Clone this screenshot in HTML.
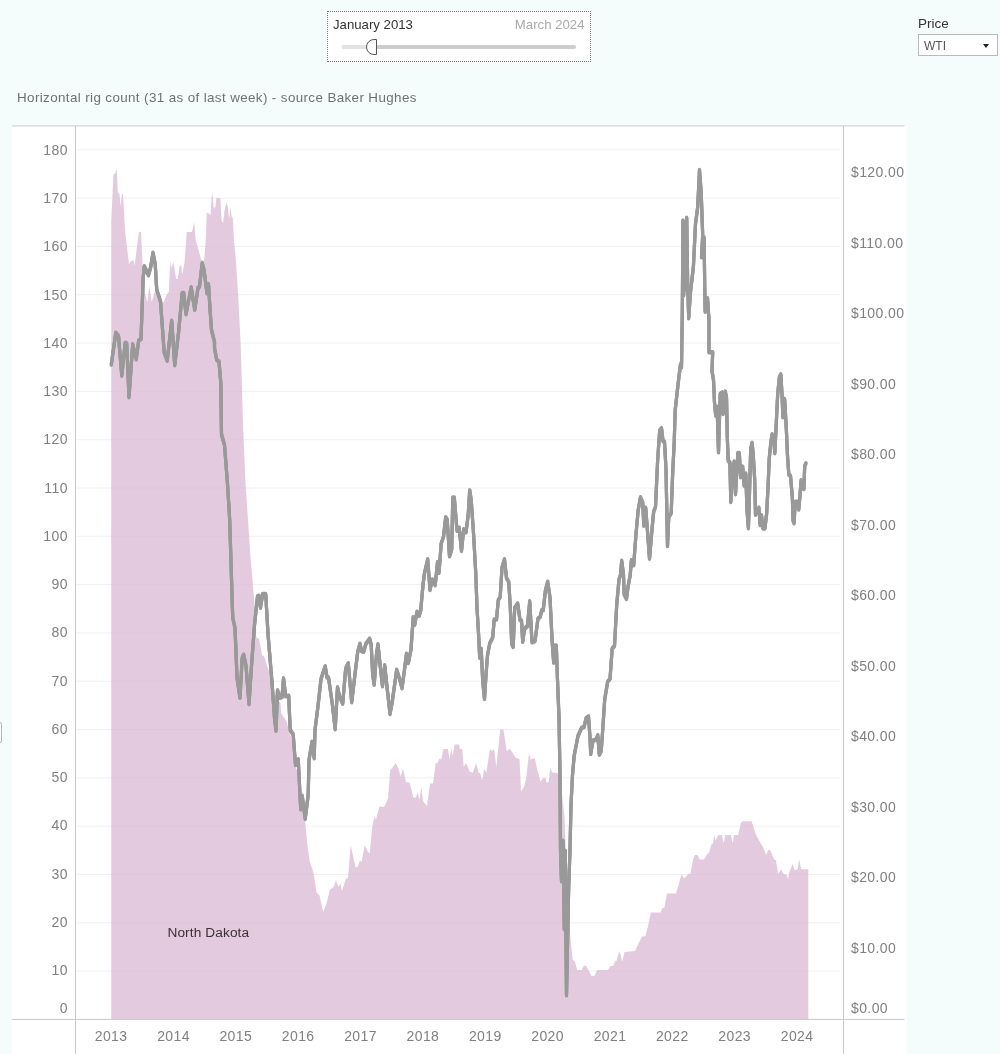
<!DOCTYPE html>
<html><head><meta charset="utf-8"><title>Horizontal rig count</title>
<style>
html,body{margin:0;padding:0;}
body{width:1000px;height:1054px;background:#f5fcfc;overflow:hidden;position:relative;font-family:"Liberation Sans",sans-serif;}
#chart{position:absolute;left:0;top:0;}
#chart text{font-family:"Liberation Sans",sans-serif;font-size:14px;fill:#808080;letter-spacing:0.4px;}
.title{position:absolute;left:17px;top:89.5px;font-size:13.4px;letter-spacing:0.38px;color:#707070;white-space:nowrap;line-height:16px;}
.slider{position:absolute;left:327px;top:11px;width:262px;height:49px;background:#fff;border:1px dotted #777;}
.slider .l{position:absolute;left:5px;top:6px;font-size:13.2px;color:#333;line-height:14px;}
.slider .r{position:absolute;right:5.5px;top:6px;font-size:13.2px;color:#aaa;line-height:14px;}
.track{position:absolute;left:14px;top:33px;width:234px;height:4px;background:#cdcdcd;border-radius:2px;}
.track .done{position:absolute;left:0;top:0;width:28px;height:4px;background:#e3e3e3;border-radius:2px;}
.handle{position:absolute;left:38px;top:27px;width:9.3px;height:14px;background:#fff;border:1.3px solid #555;border-radius:8px 0 0 8px;box-sizing:content-box;}
.price{position:absolute;left:918px;top:15.7px;font-size:13.5px;color:#333;line-height:16px;}
.dd{position:absolute;left:918px;top:34px;width:78px;height:20px;background:#fff;border:1px solid #b9b9b9;}
.dd span{position:absolute;left:5px;top:4px;font-size:12px;color:#555;line-height:14px;}
.dd i{position:absolute;right:8px;top:9px;width:0;height:0;border-left:3px solid transparent;border-right:3px solid transparent;border-top:4.3px solid #222;}
.tab{position:absolute;left:-3px;top:722px;width:5px;height:21px;border:1px solid #b5b5b5;border-radius:0 2px 2px 0;box-sizing:border-box;background:#fff;}
</style></head><body>
<svg id="chart" width="1000" height="1054" viewBox="0 0 1000 1054">
<rect x="12" y="126" width="894.5" height="928" fill="#fff"/>
<line x1="12" x2="904.5" y1="125.8" y2="125.8" stroke="#cfd4d4" stroke-width="1.3"/>
<line x1="76.5" x2="840.5" y1="971.1" y2="971.1" stroke="#f0f0f0" stroke-width="1"/>
<line x1="76.5" x2="840.5" y1="922.8" y2="922.8" stroke="#f0f0f0" stroke-width="1"/>
<line x1="76.5" x2="840.5" y1="874.5" y2="874.5" stroke="#f0f0f0" stroke-width="1"/>
<line x1="76.5" x2="840.5" y1="826.2" y2="826.2" stroke="#f0f0f0" stroke-width="1"/>
<line x1="76.5" x2="840.5" y1="777.8" y2="777.8" stroke="#f0f0f0" stroke-width="1"/>
<line x1="76.5" x2="840.5" y1="729.5" y2="729.5" stroke="#f0f0f0" stroke-width="1"/>
<line x1="76.5" x2="840.5" y1="681.2" y2="681.2" stroke="#f0f0f0" stroke-width="1"/>
<line x1="76.5" x2="840.5" y1="632.9" y2="632.9" stroke="#f0f0f0" stroke-width="1"/>
<line x1="76.5" x2="840.5" y1="584.6" y2="584.6" stroke="#f0f0f0" stroke-width="1"/>
<line x1="76.5" x2="840.5" y1="536.3" y2="536.3" stroke="#f0f0f0" stroke-width="1"/>
<line x1="76.5" x2="840.5" y1="488.0" y2="488.0" stroke="#f0f0f0" stroke-width="1"/>
<line x1="76.5" x2="840.5" y1="439.7" y2="439.7" stroke="#f0f0f0" stroke-width="1"/>
<line x1="76.5" x2="840.5" y1="391.4" y2="391.4" stroke="#f0f0f0" stroke-width="1"/>
<line x1="76.5" x2="840.5" y1="343.1" y2="343.1" stroke="#f0f0f0" stroke-width="1"/>
<line x1="76.5" x2="840.5" y1="294.7" y2="294.7" stroke="#f0f0f0" stroke-width="1"/>
<line x1="76.5" x2="840.5" y1="246.4" y2="246.4" stroke="#f0f0f0" stroke-width="1"/>
<line x1="76.5" x2="840.5" y1="198.1" y2="198.1" stroke="#f0f0f0" stroke-width="1"/>
<line x1="76.5" x2="840.5" y1="149.8" y2="149.8" stroke="#f0f0f0" stroke-width="1"/>

<polygon points="111.2,1019.4 111.2,222.0 113.5,174.0 115.0,174.0 116.8,168.5 117.8,193.0 119.5,194.0 120.5,207.0 122.0,194.0 123.0,194.0 125.0,230.0 129.0,264.0 131.5,260.5 133.5,260.5 134.5,266.0 139.0,232.0 141.0,232.0 142.5,264.0 144.0,290.0 147.4,302.0 149.3,286.0 151.7,302.0 154.6,292.0 157.0,292.0 160.0,302.0 164.0,302.0 166.4,295.0 168.8,292.0 170.2,261.0 171.7,268.5 173.2,261.0 176.2,279.0 177.7,279.0 179.7,265.5 181.2,265.5 182.2,274.5 184.5,262.5 186.8,232.0 192.0,232.0 194.2,222.0 195.7,240.0 198.7,250.5 201.0,259.5 204.0,261.0 205.8,240.0 206.8,212.4 208.8,213.6 210.5,215.0 211.6,197.2 212.4,192.4 213.6,207.6 215.2,207.6 216.4,198.0 220.4,198.0 221.6,221.2 223.2,222.8 224.4,211.6 226.4,202.8 228.0,207.6 229.2,219.6 230.4,207.6 231.6,216.4 232.8,218.0 234.0,242.0 235.5,255.0 237.7,288.0 239.2,315.0 240.7,345.0 241.8,382.5 243.2,430.0 245.5,482.5 248.5,527.5 250.0,550.0 253.0,586.0 254.5,604.0 256.0,636.0 256.7,637.7 259.0,638.5 262.0,655.0 264.2,656.5 266.5,664.0 268.5,670.0 272.0,690.0 280.5,703.0 281.2,713.5 286.5,721.0 289.5,733.0 292.0,740.0 294.0,766.0 297.0,770.0 299.2,797.5 303.0,812.0 305.2,822.0 307.5,846.0 309.7,861.0 313.5,873.0 316.5,892.5 319.5,895.5 323.2,912.0 326.2,904.5 330.0,889.5 333.7,887.0 336.0,879.7 338.2,887.0 340.5,883.5 342.0,891.0 345.7,879.0 348.0,878.0 350.7,845.0 355.5,867.0 357.7,867.0 360.0,860.0 361.5,862.5 364.8,845.0 367.5,851.0 369.7,853.5 372.2,827.0 374.5,816.5 376.0,819.5 379.3,806.7 384.2,806.7 388.0,798.5 390.2,770.0 392.5,767.7 395.5,763.0 398.5,768.5 400.7,776.7 403.0,768.5 406.0,782.0 409.7,782.7 413.5,797.7 415.7,797.7 417.7,792.5 419.5,800.0 421.3,787.0 423.2,801.5 427.0,806.0 430.0,783.5 433.0,783.5 435.7,763.0 437.5,763.0 439.3,758.7 441.2,759.5 443.5,749.0 448.0,749.0 449.5,759.5 451.3,748.0 452.5,756.5 454.7,744.5 459.2,744.5 460.0,749.0 462.2,749.0 463.7,767.0 466.0,763.0 469.7,771.5 472.7,773.0 476.2,763.0 478.7,773.0 480.2,773.0 482.2,780.5 484.3,768.5 486.2,773.0 490.0,749.0 492.2,751.0 494.2,749.0 496.3,767.0 500.2,729.5 503.5,729.5 506.7,751.0 509.7,748.7 512.7,753.0 515.7,757.7 519.5,759.0 521.0,791.5 524.0,787.0 526.2,778.0 529.0,753.0 530.7,760.0 532.2,758.5 534.8,758.5 537.5,770.5 540.5,781.7 543.2,778.0 545.7,778.0 546.5,783.0 548.7,781.7 550.2,768.0 552.5,772.7 557.0,772.7 559.0,775.0 561.5,790.0 564.5,817.0 566.0,857.5 568.0,900.0 570.5,940.0 572.7,959.5 575.0,961.7 577.2,970.0 581.7,970.0 584.0,965.5 586.2,966.0 588.5,970.0 591.5,976.0 594.5,976.0 597.2,970.0 608.0,970.0 610.2,966.0 613.2,966.0 615.2,961.0 616.5,961.0 619.2,951.0 620.5,955.0 622.2,961.7 624.5,952.0 635.0,951.0 638.0,944.5 640.0,940.4 641.8,936.8 645.4,936.0 648.1,926.0 650.8,912.5 660.7,912.5 662.5,908.0 664.3,908.0 667.0,893.6 676.0,893.6 678.7,884.6 681.4,874.2 684.1,878.3 688.6,873.8 690.4,873.8 693.1,859.4 694.9,854.9 697.6,854.9 699.4,859.4 703.9,859.4 706.6,854.9 709.3,852.2 711.1,845.0 712.9,843.2 714.2,835.1 715.6,840.5 718.3,835.1 721.9,835.1 723.7,843.0 725.5,835.1 730.9,835.1 732.7,843.2 734.0,835.1 738.1,835.1 740.8,823.4 742.6,821.2 751.6,821.2 753.4,827.0 756.1,835.1 759.7,841.4 763.3,847.7 766.0,854.9 768.7,849.5 770.5,850.4 774.1,859.4 775.9,860.3 778.2,873.8 781.3,869.3 783.1,873.8 786.7,874.7 788.0,879.2 789.4,872.0 792.6,863.9 794.8,870.2 797.5,869.3 799.3,859.4 801.1,869.3 808.3,869.3 808.3,1019.4" fill="#dbb8d3" fill-opacity="0.75"/>
<g fill="none" stroke="#999999" stroke-width="3.2" stroke-linejoin="round" stroke-linecap="round">
<polyline points="111.3,364.5 115.8,332.8 118.5,336.0 121.8,375.7 125.2,342.8 126.7,343.5 129.0,397.2 132.7,344.3 136.2,359.2 138.7,340.5 141.0,339.0 143.2,277.5 144.3,266.3 148.5,275.2 150.7,267.0 153.0,252.8 155.2,264.0 156.7,289.5 160.5,301.5 164.2,352.5 167.2,360.7 171.7,320.8 174.7,365.2 178.5,333.0 182.2,293.0 183.7,293.0 186.0,314.2 191.2,287.3 194.7,309.7 198.0,288.0 199.5,286.5 202.2,263.3 204.0,270.0 207.0,293.2 208.5,284.3 210.0,309.0 211.5,330.0 214.5,342.0 214.5,348.0 216.7,360.0 219.0,361.5 220.8,383.0 221.5,434.5 224.5,445.0 227.5,484.0 229.7,520.0 232.7,617.5 235.0,628.0 237.0,677.5 240.0,697.7 242.2,658.0 243.7,654.8 246.0,665.5 249.0,704.2 251.2,670.0 254.5,625.0 257.5,596.5 259.0,595.8 260.5,607.7 262.7,594.0 265.7,594.0 268.0,634.0 269.5,652.0 272.2,685.0 274.5,718.0 276.0,730.7 277.5,690.3 279.7,697.7 282.0,697.0 283.5,678.3 285.7,696.2 288.7,695.8 290.2,730.0 293.2,734.5 295.5,765.2 298.2,759.3 300.0,794.5 300.7,809.2 302.2,795.8 305.2,818.9 308.2,795.0 309.0,760.0 312.0,741.8 314.2,758.2 315.0,730.0 318.0,706.0 321.0,679.0 325.2,666.3 327.0,677.5 328.5,677.5 332.2,703.0 335.2,729.2 337.5,687.3 339.7,697.0 342.7,703.7 345.7,668.5 348.3,663.3 351.7,702.2 355.5,670.0 357.7,652.0 360.0,643.8 361.5,651.0 363.7,651.7 366.0,643.5 369.7,638.8 371.2,645.0 372.7,675.0 374.2,684.7 376.5,654.0 378.0,644.3 380.2,666.0 382.5,686.2 384.7,665.3 387.0,687.0 390.0,713.9 392.2,702.0 396.7,669.8 399.3,678.0 402.0,688.2 404.2,672.0 406.5,653.8 408.3,662.9 411.0,649.5 413.2,617.3 414.7,624.7 417.0,611.8 419.2,615.7 420.7,610.5 423.0,585.0 424.5,573.0 426.2,566.0 427.7,559.3 430.0,589.9 432.2,579.5 435.2,585.2 437.5,562.3 439.0,572.7 441.2,543.5 443.5,536.7 445.7,517.3 447.2,519.5 449.5,556.2 451.7,549.5 452.8,497.7 454.3,497.7 457.0,530.7 459.2,527.8 461.5,550.9 463.7,529.3 466.0,532.2 468.2,515.0 469.7,490.3 471.2,500.0 473.5,533.0 475.7,572.0 477.0,607.5 478.5,633.0 479.7,657.7 481.2,648.8 482.7,681.0 484.5,698.9 486.0,675.0 487.5,655.5 489.7,643.5 492.7,637.5 494.2,619.5 496.5,619.5 498.3,600.0 500.2,597.0 502.0,567.5 504.5,559.3 506.5,578.0 508.7,581.7 510.2,605.0 511.7,644.0 513.2,646.9 514.7,608.0 517.7,603.5 520.0,620.0 521.5,620.7 522.7,641.7 524.5,629.0 527.5,626.0 529.7,601.3 532.0,642.2 535.0,641.0 538.0,618.5 540.2,617.0 541.7,610.3 543.2,610.2 545.5,590.0 547.7,581.8 550.0,597.5 552.2,642.5 553.7,662.7 554.5,645.5 556.3,645.5 557.5,680.0 559.0,717.5 560.0,775.0 560.5,850.0 561.5,881.2 563.0,840.8 564.3,929.2 565.3,850.8 566.5,995.2 568.6,890.0 570.0,850.0 571.0,805.0 572.5,775.0 574.2,755.5 578.0,736.0 581.7,727.7 584.0,727.0 586.2,718.0 588.5,716.5 590.0,737.5 590.7,753.9 593.0,740.5 596.0,739.7 597.8,735.3 599.3,754.7 601.2,751.0 602.7,730.0 604.7,699.5 607.7,681.5 610.0,679.0 612.2,648.5 614.5,646.0 616.7,605.0 619.0,579.5 620.5,575.0 621.7,560.8 623.5,575.0 624.2,594.5 626.5,598.9 628.0,587.0 630.2,575.0 631.4,560.3 633.7,565.2 636.0,534.0 638.2,510.0 640.5,497.3 642.7,502.5 643.8,525.7 645.7,507.8 647.7,534.0 649.5,558.7 651.7,532.5 653.7,511.5 655.5,507.0 657.7,459.0 659.7,430.5 661.5,428.3 663.0,441.0 664.5,441.7 666.0,469.5 667.5,545.9 668.7,517.5 671.2,513.0 672.7,472.5 674.2,442.5 675.2,410.0 678.2,383.0 680.5,364.3 681.5,367.2 682.3,312.5 683.0,220.5 683.7,295.2 684.6,222.8 685.3,289.2 686.7,217.8 687.7,285.0 688.7,318.2 690.5,292.0 693.4,266.7 695.5,224.0 697.7,207.0 699.5,170.0 701.2,192.7 702.7,235.4 701.5,257.2 704.1,237.6 704.8,292.3 705.2,311.7 707.5,298.3 709.0,320.0 709.0,352.2 712.7,352.3 712.0,371.0 713.5,380.0 714.5,402.7 715.7,415.6 717.1,406.8 718.5,452.2 720.2,394.0 722.2,392.4 723.1,413.9 725.3,391.5 726.5,397.6 727.3,436.9 728.2,460.8 729.9,462.5 730.8,501.9 732.5,471.0 734.2,461.6 735.5,494.2 737.9,453.0 739.3,453.0 740.7,477.1 742.7,466.7 744.1,485.6 745.8,473.6 747.0,510.3 748.4,528.2 749.5,493.3 750.7,448.8 752.1,442.8 753.3,455.7 754.7,479.6 755.5,514.7 757.2,510.3 758.9,507.8 760.1,524.9 761.5,515.4 762.9,528.3 764.9,528.3 766.6,513.8 768.0,488.1 769.2,459.0 770.9,442.0 772.1,434.3 773.8,438.6 774.8,453.2 776.0,428.3 777.7,394.2 779.4,377.0 780.8,374.5 782.0,394.2 782.9,417.2 784.6,399.2 786.3,428.3 787.5,455.7 788.8,474.5 790.5,476.2 792.3,496.7 793.1,520.6 794.0,523.2 795.3,501.8 797.4,501.8 798.7,509.5 799.9,496.7 801.1,480.4 802.5,488.1 803.9,489.0 804.7,465.9 805.9,463.4" transform="translate(0,-0.75)"/>
<polyline points="111.3,364.5 115.8,332.8 118.5,336.0 121.8,375.7 125.2,342.8 126.7,343.5 129.0,397.2 132.7,344.3 136.2,359.2 138.7,340.5 141.0,339.0 143.2,277.5 144.3,266.3 148.5,275.2 150.7,267.0 153.0,252.8 155.2,264.0 156.7,289.5 160.5,301.5 164.2,352.5 167.2,360.7 171.7,320.8 174.7,365.2 178.5,333.0 182.2,293.0 183.7,293.0 186.0,314.2 191.2,287.3 194.7,309.7 198.0,288.0 199.5,286.5 202.2,263.3 204.0,270.0 207.0,293.2 208.5,284.3 210.0,309.0 211.5,330.0 214.5,342.0 214.5,348.0 216.7,360.0 219.0,361.5 220.8,383.0 221.5,434.5 224.5,445.0 227.5,484.0 229.7,520.0 232.7,617.5 235.0,628.0 237.0,677.5 240.0,697.7 242.2,658.0 243.7,654.8 246.0,665.5 249.0,704.2 251.2,670.0 254.5,625.0 257.5,596.5 259.0,595.8 260.5,607.7 262.7,594.0 265.7,594.0 268.0,634.0 269.5,652.0 272.2,685.0 274.5,718.0 276.0,730.7 277.5,690.3 279.7,697.7 282.0,697.0 283.5,678.3 285.7,696.2 288.7,695.8 290.2,730.0 293.2,734.5 295.5,765.2 298.2,759.3 300.0,794.5 300.7,809.2 302.2,795.8 305.2,818.9 308.2,795.0 309.0,760.0 312.0,741.8 314.2,758.2 315.0,730.0 318.0,706.0 321.0,679.0 325.2,666.3 327.0,677.5 328.5,677.5 332.2,703.0 335.2,729.2 337.5,687.3 339.7,697.0 342.7,703.7 345.7,668.5 348.3,663.3 351.7,702.2 355.5,670.0 357.7,652.0 360.0,643.8 361.5,651.0 363.7,651.7 366.0,643.5 369.7,638.8 371.2,645.0 372.7,675.0 374.2,684.7 376.5,654.0 378.0,644.3 380.2,666.0 382.5,686.2 384.7,665.3 387.0,687.0 390.0,713.9 392.2,702.0 396.7,669.8 399.3,678.0 402.0,688.2 404.2,672.0 406.5,653.8 408.3,662.9 411.0,649.5 413.2,617.3 414.7,624.7 417.0,611.8 419.2,615.7 420.7,610.5 423.0,585.0 424.5,573.0 426.2,566.0 427.7,559.3 430.0,589.9 432.2,579.5 435.2,585.2 437.5,562.3 439.0,572.7 441.2,543.5 443.5,536.7 445.7,517.3 447.2,519.5 449.5,556.2 451.7,549.5 452.8,497.7 454.3,497.7 457.0,530.7 459.2,527.8 461.5,550.9 463.7,529.3 466.0,532.2 468.2,515.0 469.7,490.3 471.2,500.0 473.5,533.0 475.7,572.0 477.0,607.5 478.5,633.0 479.7,657.7 481.2,648.8 482.7,681.0 484.5,698.9 486.0,675.0 487.5,655.5 489.7,643.5 492.7,637.5 494.2,619.5 496.5,619.5 498.3,600.0 500.2,597.0 502.0,567.5 504.5,559.3 506.5,578.0 508.7,581.7 510.2,605.0 511.7,644.0 513.2,646.9 514.7,608.0 517.7,603.5 520.0,620.0 521.5,620.7 522.7,641.7 524.5,629.0 527.5,626.0 529.7,601.3 532.0,642.2 535.0,641.0 538.0,618.5 540.2,617.0 541.7,610.3 543.2,610.2 545.5,590.0 547.7,581.8 550.0,597.5 552.2,642.5 553.7,662.7 554.5,645.5 556.3,645.5 557.5,680.0 559.0,717.5 560.0,775.0 560.5,850.0 561.5,881.2 563.0,840.8 564.3,929.2 565.3,850.8 566.5,995.2 568.6,890.0 570.0,850.0 571.0,805.0 572.5,775.0 574.2,755.5 578.0,736.0 581.7,727.7 584.0,727.0 586.2,718.0 588.5,716.5 590.0,737.5 590.7,753.9 593.0,740.5 596.0,739.7 597.8,735.3 599.3,754.7 601.2,751.0 602.7,730.0 604.7,699.5 607.7,681.5 610.0,679.0 612.2,648.5 614.5,646.0 616.7,605.0 619.0,579.5 620.5,575.0 621.7,560.8 623.5,575.0 624.2,594.5 626.5,598.9 628.0,587.0 630.2,575.0 631.4,560.3 633.7,565.2 636.0,534.0 638.2,510.0 640.5,497.3 642.7,502.5 643.8,525.7 645.7,507.8 647.7,534.0 649.5,558.7 651.7,532.5 653.7,511.5 655.5,507.0 657.7,459.0 659.7,430.5 661.5,428.3 663.0,441.0 664.5,441.7 666.0,469.5 667.5,545.9 668.7,517.5 671.2,513.0 672.7,472.5 674.2,442.5 675.2,410.0 678.2,383.0 680.5,364.3 681.5,367.2 682.3,312.5 683.0,220.5 683.7,295.2 684.6,222.8 685.3,289.2 686.7,217.8 687.7,285.0 688.7,318.2 690.5,292.0 693.4,266.7 695.5,224.0 697.7,207.0 699.5,170.0 701.2,192.7 702.7,235.4 701.5,257.2 704.1,237.6 704.8,292.3 705.2,311.7 707.5,298.3 709.0,320.0 709.0,352.2 712.7,352.3 712.0,371.0 713.5,380.0 714.5,402.7 715.7,415.6 717.1,406.8 718.5,452.2 720.2,394.0 722.2,392.4 723.1,413.9 725.3,391.5 726.5,397.6 727.3,436.9 728.2,460.8 729.9,462.5 730.8,501.9 732.5,471.0 734.2,461.6 735.5,494.2 737.9,453.0 739.3,453.0 740.7,477.1 742.7,466.7 744.1,485.6 745.8,473.6 747.0,510.3 748.4,528.2 749.5,493.3 750.7,448.8 752.1,442.8 753.3,455.7 754.7,479.6 755.5,514.7 757.2,510.3 758.9,507.8 760.1,524.9 761.5,515.4 762.9,528.3 764.9,528.3 766.6,513.8 768.0,488.1 769.2,459.0 770.9,442.0 772.1,434.3 773.8,438.6 774.8,453.2 776.0,428.3 777.7,394.2 779.4,377.0 780.8,374.5 782.0,394.2 782.9,417.2 784.6,399.2 786.3,428.3 787.5,455.7 788.8,474.5 790.5,476.2 792.3,496.7 793.1,520.6 794.0,523.2 795.3,501.8 797.4,501.8 798.7,509.5 799.9,496.7 801.1,480.4 802.5,488.1 803.9,489.0 804.7,465.9 805.9,463.4" transform="translate(0,0.75)"/>
<polyline points="111.3,364.5 115.8,332.8 118.5,336.0 121.8,375.7 125.2,342.8 126.7,343.5 129.0,397.2 132.7,344.3 136.2,359.2 138.7,340.5 141.0,339.0 143.2,277.5 144.3,266.3 148.5,275.2 150.7,267.0 153.0,252.8 155.2,264.0 156.7,289.5 160.5,301.5 164.2,352.5 167.2,360.7 171.7,320.8 174.7,365.2 178.5,333.0 182.2,293.0 183.7,293.0 186.0,314.2 191.2,287.3 194.7,309.7 198.0,288.0 199.5,286.5 202.2,263.3 204.0,270.0 207.0,293.2 208.5,284.3 210.0,309.0 211.5,330.0 214.5,342.0 214.5,348.0 216.7,360.0 219.0,361.5 220.8,383.0 221.5,434.5 224.5,445.0 227.5,484.0 229.7,520.0 232.7,617.5 235.0,628.0 237.0,677.5 240.0,697.7 242.2,658.0 243.7,654.8 246.0,665.5 249.0,704.2 251.2,670.0 254.5,625.0 257.5,596.5 259.0,595.8 260.5,607.7 262.7,594.0 265.7,594.0 268.0,634.0 269.5,652.0 272.2,685.0 274.5,718.0 276.0,730.7 277.5,690.3 279.7,697.7 282.0,697.0 283.5,678.3 285.7,696.2 288.7,695.8 290.2,730.0 293.2,734.5 295.5,765.2 298.2,759.3 300.0,794.5 300.7,809.2 302.2,795.8 305.2,818.9 308.2,795.0 309.0,760.0 312.0,741.8 314.2,758.2 315.0,730.0 318.0,706.0 321.0,679.0 325.2,666.3 327.0,677.5 328.5,677.5 332.2,703.0 335.2,729.2 337.5,687.3 339.7,697.0 342.7,703.7 345.7,668.5 348.3,663.3 351.7,702.2 355.5,670.0 357.7,652.0 360.0,643.8 361.5,651.0 363.7,651.7 366.0,643.5 369.7,638.8 371.2,645.0 372.7,675.0 374.2,684.7 376.5,654.0 378.0,644.3 380.2,666.0 382.5,686.2 384.7,665.3 387.0,687.0 390.0,713.9 392.2,702.0 396.7,669.8 399.3,678.0 402.0,688.2 404.2,672.0 406.5,653.8 408.3,662.9 411.0,649.5 413.2,617.3 414.7,624.7 417.0,611.8 419.2,615.7 420.7,610.5 423.0,585.0 424.5,573.0 426.2,566.0 427.7,559.3 430.0,589.9 432.2,579.5 435.2,585.2 437.5,562.3 439.0,572.7 441.2,543.5 443.5,536.7 445.7,517.3 447.2,519.5 449.5,556.2 451.7,549.5 452.8,497.7 454.3,497.7 457.0,530.7 459.2,527.8 461.5,550.9 463.7,529.3 466.0,532.2 468.2,515.0 469.7,490.3 471.2,500.0 473.5,533.0 475.7,572.0 477.0,607.5 478.5,633.0 479.7,657.7 481.2,648.8 482.7,681.0 484.5,698.9 486.0,675.0 487.5,655.5 489.7,643.5 492.7,637.5 494.2,619.5 496.5,619.5 498.3,600.0 500.2,597.0 502.0,567.5 504.5,559.3 506.5,578.0 508.7,581.7 510.2,605.0 511.7,644.0 513.2,646.9 514.7,608.0 517.7,603.5 520.0,620.0 521.5,620.7 522.7,641.7 524.5,629.0 527.5,626.0 529.7,601.3 532.0,642.2 535.0,641.0 538.0,618.5 540.2,617.0 541.7,610.3 543.2,610.2 545.5,590.0 547.7,581.8 550.0,597.5 552.2,642.5 553.7,662.7 554.5,645.5 556.3,645.5 557.5,680.0 559.0,717.5 560.0,775.0 560.5,850.0 561.5,881.2 563.0,840.8 564.3,929.2 565.3,850.8 566.5,995.2 568.6,890.0 570.0,850.0 571.0,805.0 572.5,775.0 574.2,755.5 578.0,736.0 581.7,727.7 584.0,727.0 586.2,718.0 588.5,716.5 590.0,737.5 590.7,753.9 593.0,740.5 596.0,739.7 597.8,735.3 599.3,754.7 601.2,751.0 602.7,730.0 604.7,699.5 607.7,681.5 610.0,679.0 612.2,648.5 614.5,646.0 616.7,605.0 619.0,579.5 620.5,575.0 621.7,560.8 623.5,575.0 624.2,594.5 626.5,598.9 628.0,587.0 630.2,575.0 631.4,560.3 633.7,565.2 636.0,534.0 638.2,510.0 640.5,497.3 642.7,502.5 643.8,525.7 645.7,507.8 647.7,534.0 649.5,558.7 651.7,532.5 653.7,511.5 655.5,507.0 657.7,459.0 659.7,430.5 661.5,428.3 663.0,441.0 664.5,441.7 666.0,469.5 667.5,545.9 668.7,517.5 671.2,513.0 672.7,472.5 674.2,442.5 675.2,410.0 678.2,383.0 680.5,364.3 681.5,367.2 682.3,312.5 683.0,220.5 683.7,295.2 684.6,222.8 685.3,289.2 686.7,217.8 687.7,285.0 688.7,318.2 690.5,292.0 693.4,266.7 695.5,224.0 697.7,207.0 699.5,170.0 701.2,192.7 702.7,235.4 701.5,257.2 704.1,237.6 704.8,292.3 705.2,311.7 707.5,298.3 709.0,320.0 709.0,352.2 712.7,352.3 712.0,371.0 713.5,380.0 714.5,402.7 715.7,415.6 717.1,406.8 718.5,452.2 720.2,394.0 722.2,392.4 723.1,413.9 725.3,391.5 726.5,397.6 727.3,436.9 728.2,460.8 729.9,462.5 730.8,501.9 732.5,471.0 734.2,461.6 735.5,494.2 737.9,453.0 739.3,453.0 740.7,477.1 742.7,466.7 744.1,485.6 745.8,473.6 747.0,510.3 748.4,528.2 749.5,493.3 750.7,448.8 752.1,442.8 753.3,455.7 754.7,479.6 755.5,514.7 757.2,510.3 758.9,507.8 760.1,524.9 761.5,515.4 762.9,528.3 764.9,528.3 766.6,513.8 768.0,488.1 769.2,459.0 770.9,442.0 772.1,434.3 773.8,438.6 774.8,453.2 776.0,428.3 777.7,394.2 779.4,377.0 780.8,374.5 782.0,394.2 782.9,417.2 784.6,399.2 786.3,428.3 787.5,455.7 788.8,474.5 790.5,476.2 792.3,496.7 793.1,520.6 794.0,523.2 795.3,501.8 797.4,501.8 798.7,509.5 799.9,496.7 801.1,480.4 802.5,488.1 803.9,489.0 804.7,465.9 805.9,463.4"/>
</g>
<line x1="75.5" x2="75.5" y1="126" y2="1054" stroke="#c8c8c8" stroke-width="1"/>
<line x1="843.5" x2="843.5" y1="126" y2="1054" stroke="#c8c8c8" stroke-width="1"/>
<line x1="12" x2="904.5" y1="1019.4" y2="1019.4" stroke="#c8c8c8" stroke-width="1"/>
<g><text x="67.9" y="1012.6" text-anchor="end">0</text>
<text x="67.9" y="975.0" text-anchor="end">10</text>
<text x="67.9" y="926.7" text-anchor="end">20</text>
<text x="67.9" y="878.5" text-anchor="end">30</text>
<text x="67.9" y="830.2" text-anchor="end">40</text>
<text x="67.9" y="782.0" text-anchor="end">50</text>
<text x="67.9" y="733.7" text-anchor="end">60</text>
<text x="67.9" y="685.5" text-anchor="end">70</text>
<text x="67.9" y="637.3" text-anchor="end">80</text>
<text x="67.9" y="589.0" text-anchor="end">90</text>
<text x="67.9" y="540.8" text-anchor="end">100</text>
<text x="67.9" y="492.5" text-anchor="end">110</text>
<text x="67.9" y="444.3" text-anchor="end">120</text>
<text x="67.9" y="396.0" text-anchor="end">130</text>
<text x="67.9" y="347.8" text-anchor="end">140</text>
<text x="67.9" y="299.5" text-anchor="end">150</text>
<text x="67.9" y="251.3" text-anchor="end">160</text>
<text x="67.9" y="203.1" text-anchor="end">170</text>
<text x="67.9" y="154.8" text-anchor="end">180</text>
</g>
<g><text x="851" y="1012.6">$0.00</text>
<text x="851" y="952.9">$10.00</text>
<text x="851" y="882.4">$20.00</text>
<text x="851" y="811.9">$30.00</text>
<text x="851" y="741.3">$40.00</text>
<text x="851" y="670.8">$50.00</text>
<text x="851" y="600.3">$60.00</text>
<text x="851" y="529.8">$70.00</text>
<text x="851" y="459.3">$80.00</text>
<text x="851" y="388.8">$90.00</text>
<text x="851" y="318.2">$100.00</text>
<text x="851" y="247.7">$110.00</text>
<text x="851" y="177.2">$120.00</text>
</g>
<g><text x="111.1" y="1041.3" text-anchor="middle">2013</text>
<text x="173.5" y="1041.3" text-anchor="middle">2014</text>
<text x="235.8" y="1041.3" text-anchor="middle">2015</text>
<text x="298.2" y="1041.3" text-anchor="middle">2016</text>
<text x="360.5" y="1041.3" text-anchor="middle">2017</text>
<text x="422.9" y="1041.3" text-anchor="middle">2018</text>
<text x="485.3" y="1041.3" text-anchor="middle">2019</text>
<text x="547.6" y="1041.3" text-anchor="middle">2020</text>
<text x="610.0" y="1041.3" text-anchor="middle">2021</text>
<text x="672.3" y="1041.3" text-anchor="middle">2022</text>
<text x="734.7" y="1041.3" text-anchor="middle">2023</text>
<text x="797.1" y="1041.3" text-anchor="middle">2024</text>
</g>
<text x="167.4" y="937" style="fill:#3a303a;font-size:13.7px;letter-spacing:0.1px">North Dakota</text>
</svg>
<div class="title">Horizontal rig count (31 as of last week) - source Baker Hughes</div>
<div class="slider"><div class="l">January 2013</div><div class="r">March 2024</div><div class="track"><div class="done"></div></div><div class="handle"></div></div>
<div class="price">Price</div>
<div class="dd"><span>WTI</span><i></i></div>
<div class="tab"></div>
</body></html>
